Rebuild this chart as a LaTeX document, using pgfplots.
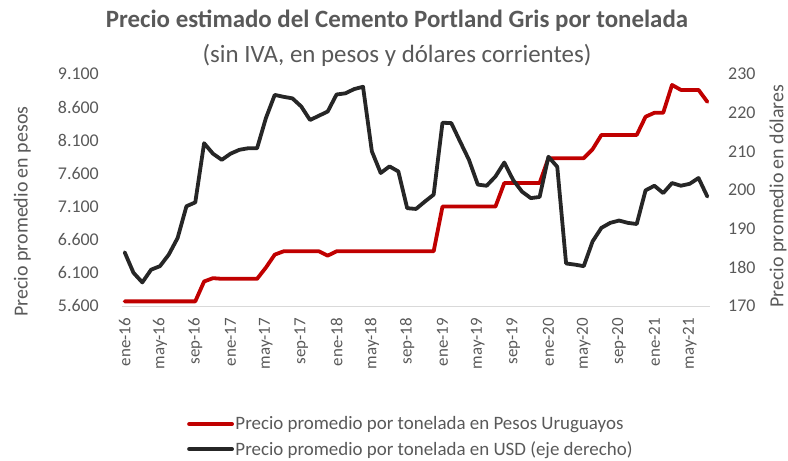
\documentclass[border=0pt]{standalone}
\usepackage{pgfplots}
\pgfplotsset{compat=1.18}
\usepackage{pgfplotstable}
\usepackage{fontspec}
\setmainfont{Carlito}
\definecolor{txt}{HTML}{595959}
\definecolor{redl}{HTML}{C00000}
\definecolor{blkl}{HTML}{262626}
\definecolor{axl}{HTML}{D9D9D9}

\pgfplotstableread{
i pesos
0 5670
1 5670
2 5670
3 5670
4 5670
5 5670
6 5670
7 5670
8 5670
9 5970
10 6020
11 6010
12 6010
13 6010
14 6010
15 6010
16 6180
17 6375
18 6425
19 6425
20 6425
21 6425
22 6425
23 6360
24 6425
25 6425
26 6425
27 6425
28 6425
29 6425
30 6425
31 6425
32 6425
33 6425
34 6425
35 6425
36 7100
37 7100
38 7100
39 7100
40 7100
41 7100
42 7100
43 7455
44 7455
45 7455
46 7455
47 7455
48 7830
49 7830
50 7830
51 7830
52 7830
53 7965
54 8180
55 8180
56 8180
57 8180
58 8180
59 8455
60 8515
61 8515
62 8935
63 8860
64 8860
65 8860
66 8680
}\pesos

\pgfplotstableread{
i usd
0 183.9
1 178.6
2 176.1
3 179.4
4 180.3
5 183.3
6 187.6
7 195.8
8 196.8
9 212.1
10 209.4
11 207.8
12 209.4
13 210.4
14 210.8
15 210.8
16 218.6
17 224.6
18 224.1
19 223.7
20 221.6
21 218.1
22 219.2
23 220.3
24 224.7
25 225.0
26 226.1
27 226.7
28 210.0
29 204.4
30 206.1
31 204.8
32 195.3
33 195.1
34 197.0
35 198.8
36 217.4
37 217.3
38 212.5
39 207.8
40 201.4
41 201.1
42 203.5
43 207.1
44 202.6
45 199.6
46 197.9
47 198.2
48 208.6
49 206.0
50 181.0
51 180.7
52 180.3
53 186.7
54 190.2
55 191.5
56 192.1
57 191.5
58 191.2
59 199.9
60 201.1
61 199.2
62 201.8
63 201.1
64 201.6
65 203.1
66 198.3
}\usd

\begin{document}
\begin{tikzpicture}
\useasboundingbox (0bp,0bp) rectangle (788bp,461bp);
\begin{axis}[
  at={(122bp,155bp)}, anchor=south west,
  scale only axis, width=588bp, height=232bp,
  xmin=-0.3, xmax=66.3, ymin=5600, ymax=9100,
  axis x line*=bottom, axis y line*=left,
  x axis line style={draw=axl, line width=1bp, -},
  y axis line style={draw=none},
  major tick length=0pt,
  xtick={0,4,...,64},
  xticklabels={ene-16,may-16,sep-16,ene-17,may-17,sep-17,ene-18,may-18,sep-18,ene-19,may-19,sep-19,ene-20,may-20,sep-20,ene-21,may-21},
  xticklabel style={rotate=90, anchor=east, inner sep=0pt, font=\fontsize{17}{20}\selectfont, text=txt},
  xticklabel shift=12bp,
  ytick={5600,6100,...,9100},
  yticklabels={5.600,6.100,6.600,7.100,7.600,8.100,8.600,9.100},
  yticklabel style={anchor=east, inner sep=0pt, font=\fontsize{18}{21}\selectfont, text=txt},
  yticklabel shift=23bp,
  legend style={draw=none, fill=none, at={(0.1105,-0.47)}, anchor=north west,
    font=\fontsize{19}{22}\selectfont, text=txt, row sep=7bp, inner sep=0pt,
    nodes={inner sep=1.5bp}},
  legend cell align=left,
  legend image code/.code={\draw[#1] (0bp,0bp) -- (43bp,0bp);},
]
\addplot[redl, line width=3.8bp, line cap=round, line join=round] table[x=i, y=pesos] {\pesos};
\addlegendentry{Precio promedio por tonelada en Pesos Uruguayos}
\addlegendimage{blkl, line width=3.8bp, line cap=round}
\addlegendentry{Precio promedio por tonelada en USD (eje derecho)}
\end{axis}
\begin{axis}[
  at={(122bp,155bp)}, anchor=south west,
  scale only axis, width=588bp, height=232bp,
  xmin=-0.3, xmax=66.3, ymin=170, ymax=230,
  axis x line=none, axis y line*=right,
  y axis line style={draw=none},
  major tick length=0pt,
  ytick={170,180,...,230},
  yticklabels={170,180,190,200,210,220,230},
  yticklabel style={anchor=west, inner sep=0pt, font=\fontsize{18}{21}\selectfont, text=txt},
  yticklabel shift=18bp,
]
\addplot[blkl, line width=3.8bp, line cap=round, line join=round] table[x=i, y=usd] {\usd};
\end{axis}
\node[anchor=base, font=\bfseries\fontsize{25}{29}\selectfont, text=txt] at (397bp,433bp) {Precio estimado del Cemento Portland Gris por tonelada};
\node[anchor=base, font=\fontsize{25}{29}\selectfont, text=txt] at (397bp,398bp) {(sin IVA, en pesos y dólares corrientes)};
\node[rotate=90, inner sep=0pt, font=\fontsize{20}{24}\selectfont, text=txt] at (22.2bp,249.5bp) {Precio promedio en pesos};
\node[rotate=90, inner sep=0pt, font=\fontsize{20}{24}\selectfont, text=txt] at (778bp,265bp) {Precio promedio en dólares};
\end{tikzpicture}
\end{document}
